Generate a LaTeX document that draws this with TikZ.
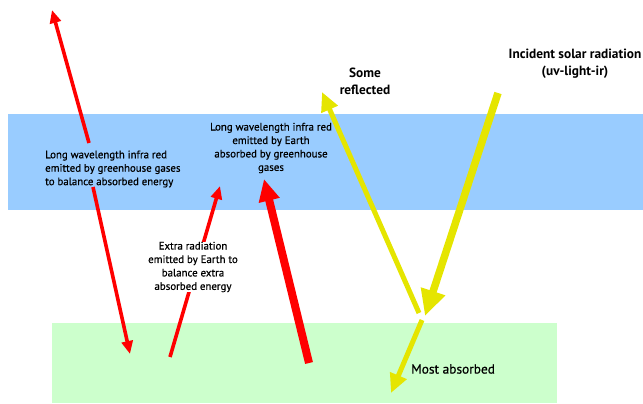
\documentclass[tikz,border=0pt]{standalone}
\usepackage{fontspec}
\setmainfont{PT Sans}
\newfontfamily\midfont[FakeBold=0.6]{PT Sans}
\usetikzlibrary{arrows.meta}
\definecolor{skyc}{RGB}{153,204,255}
\definecolor{earthc}{RGB}{204,255,204}
\definecolor{irc}{RGB}{255,0,0}
\definecolor{sunc}{RGB}{229,229,0}

\begin{document}
\begin{tikzpicture}[x=1bp,y=-1bp,>=Latex,
  ir/.style={irc,line width=3.6bp,-{Triangle[length=13bp,width=11bp]}},
  irbig/.style={irc,line width=8bp,-{Triangle[length=22bp,width=20bp]}},
  sun/.style={sunc,line width=5bp,-{Triangle[length=19bp,width=17bp]}},
  sunbig/.style={sunc,line width=7.5bp,-{Triangle[length=26bp,width=24bp]}},
  lbl/.style={font=\midfont\fontsize{10.9}{13.5}\selectfont,inner sep=1pt},
  hlbl/.style={font=\bfseries\fontsize{13.4}{17}\selectfont,align=center,inner sep=1pt}]
\useasboundingbox (0,0) rectangle (643,403);
% atmosphere and ground
\fill[skyc] (8,114) rectangle (643,210);
\fill[earthc] (52,323) rectangle (557,403);
% arrow ends
\coordinate (ghgout) at (89,143);
\coordinate (spacetip) at (52,10);
\coordinate (ghgdown) at (93,187);
\coordinate (groundtip) at (130,354);
\coordinate (extrasrc) at (170,357);
\coordinate (extratip) at (220,186);
\coordinate (earthsrc) at (309,363);
\coordinate (absorbtip) at (264,179);
\coordinate (sunsrc) at (498,93);
\coordinate (sunhit) at (425,316);
\coordinate (reflsrc) at (419,313);
\coordinate (refltip) at (322,92);
\coordinate (mostsrc) at (422,320);
\coordinate (mosttip) at (391,393);
% infra red
\draw[ir] (ghgout) -- (spacetip);
\draw[ir] (ghgdown) -- (groundtip);
\draw[ir] (extrasrc) -- (extratip);
\draw[irbig] (earthsrc) -- (absorbtip);
% solar
\draw[sunbig] (sunsrc) -- (sunhit);
\draw[sun] (reflsrc) -- (refltip);
\draw[sun] (mostsrc) -- (mosttip);
% labels
\node[lbl,align=left,anchor=west] (ghglab) at (44,169)
  {Long wavelength infra red\\emitted by greenhouse gases\\to balance absorbed energy};
\node[lbl,align=center] (absorblab) at (271,148)
  {Long wavelength infra red\\emitted by Earth\\absorbed by greenhouse\\gases};
\node[lbl,align=center,fill=white,inner sep=0pt] (extralab) at (193,267)
  {Extra radiation\\emitted by Earth to\\balance extra\\absorbed energy};
\node[hlbl] (refllab) at (365,81) {Some\\reflected};
\node[hlbl] (sunlab) at (575,64) {Incident solar radiation\\(uv-light-ir)};
\node[font=\midfont\fontsize{13.4}{15}\selectfont,anchor=west,inner sep=0pt] (mostlab) at (411,369) {Most absorbed};
\end{tikzpicture}
\end{document}
